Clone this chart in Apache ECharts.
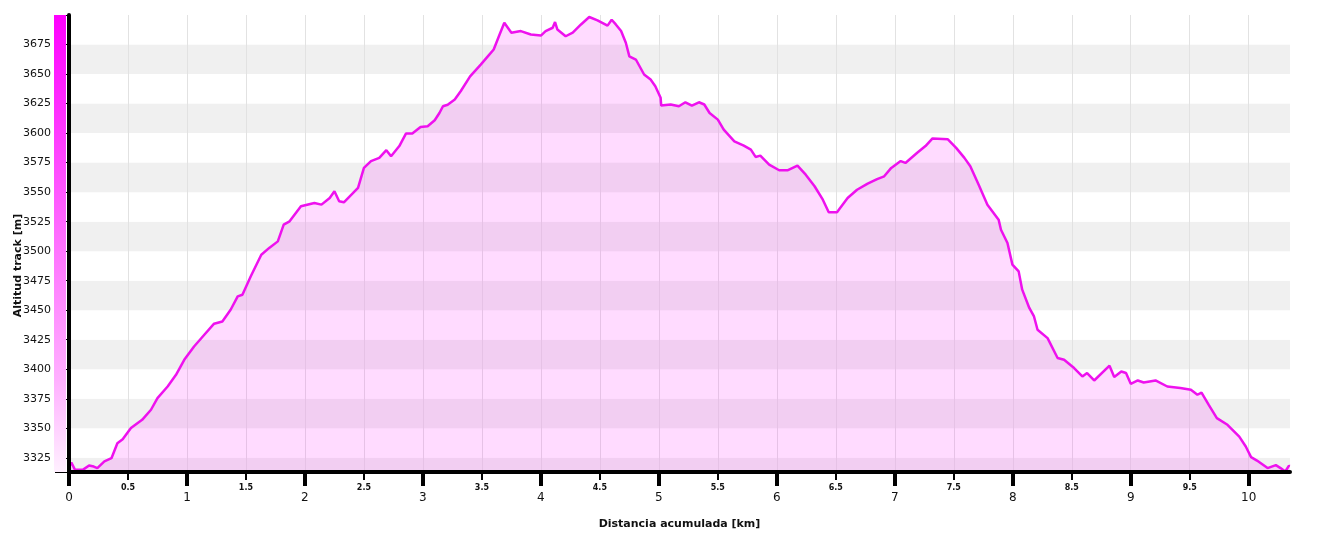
<!DOCTYPE html>
<html>
<head>
<meta charset="utf-8">
<script src="https://cdn.jsdelivr.net/npm/echarts@6/dist/echarts.min.js"></script>
<style>html,body{margin:0;padding:0;background:#fff;}#c{width:1323px;height:533px;}</style>
</head>
<body>
<div id="c"></div>
<script>
// Distance along the track (km)
const dist = [0.00,0.02,0.05,0.12,0.17,0.21,0.24,0.30,0.36,0.41,0.455,0.525,0.62,0.695,0.75,0.836,0.907,0.977,1.06,1.147,1.23,1.30,1.37,1.43,1.47,1.54,1.63,1.70,1.77,1.82,1.87,1.966,2.08,2.14,2.21,2.25,2.29,2.33,2.45,2.50,2.56,2.63,2.69,2.73,2.80,2.856,2.91,2.98,3.04,3.10,3.14,3.17,3.21,3.27,3.32,3.40,3.49,3.55,3.60,3.65,3.69,3.72,3.75,3.83,3.915,4.00,4.04,4.10,4.12,4.14,4.21,4.27,4.34,4.41,4.48,4.565,4.60,4.635,4.68,4.72,4.75,4.805,4.875,4.93,4.97,5.015,5.02,5.10,5.17,5.225,5.28,5.34,5.385,5.43,5.50,5.55,5.64,5.72,5.78,5.82,5.86,5.935,6.02,6.09,6.175,6.245,6.32,6.39,6.44,6.51,6.60,6.68,6.77,6.85,6.91,6.97,7.05,7.09,7.19,7.26,7.32,7.45,7.52,7.59,7.64,7.71,7.785,7.88,7.90,7.955,7.997,8.05,8.08,8.14,8.18,8.21,8.295,8.38,8.435,8.52,8.59,8.63,8.69,8.82,8.86,8.92,8.96,9.00,9.06,9.11,9.21,9.31,9.42,9.51,9.565,9.60,9.66,9.73,9.82,9.92,9.975,10.02,10.07,10.16,10.23,10.27,10.31,10.34,10.35];
// Altitude (m)
const alt = [3317,3321,3315,3315,3318.5,3317.6,3316.3,3322,3324.7,3337.4,3340.8,3350.2,3357.2,3365.7,3375.6,3385.4,3395.3,3408,3419.3,3429.2,3438.6,3440.5,3450.4,3461.7,3463.1,3478.6,3497,3503,3508.3,3522.5,3525.3,3538,3540.8,3539.4,3545.1,3550.7,3542.3,3541.4,3553.6,3570.5,3576.3,3579,3585.5,3580.4,3589,3599.6,3599.6,3605.2,3605.8,3610.9,3617,3622.7,3624,3628.4,3635.4,3648,3658,3665,3670.8,3683.5,3693.4,3689.2,3685,3686.4,3683.5,3682.6,3686.4,3689.2,3694,3687.7,3682,3685,3692,3698.3,3695.5,3691,3696,3692,3686.4,3676.5,3665,3662.3,3649.6,3645.3,3639.7,3629.9,3623.3,3624.2,3622.7,3626.1,3623.3,3626.1,3624.2,3617,3611.4,3603,3593,3589.4,3586,3579.8,3580.9,3573.3,3568.5,3568.5,3572.5,3564.8,3555,3543.6,3532.9,3532.9,3545,3552,3557.2,3561,3563.4,3570.5,3576.3,3574.7,3583.3,3589,3595.5,3594.7,3587.5,3579,3572,3556.4,3539.4,3526.7,3518.2,3506.9,3488.6,3482.9,3467.4,3451.9,3444.7,3433.5,3426.4,3409.5,3408,3401,3393.9,3396.8,3390.5,3403,3393.4,3398.1,3396.8,3387.7,3390.5,3388.8,3390.5,3385.4,3384.1,3382.6,3378.4,3380.3,3370,3358.6,3353,3343,3334.6,3325.6,3322.7,3316.3,3318.8,3316.3,3313.4,3318.2,3318];

// Axis ranges and ticks
const xMin = 0, xMax = 10.35;
const yMin = 3313, yMax = 3700;
const xTicks = [0,0.5,1,1.5,2,2.5,3,3.5,4,4.5,5,5.5,6,6.5,7,7.5,8,8.5,9,9.5,10];
const xMajorTicks = [0,1,2,3,4,5,6,7,8,9,10];
const yLabels = [3325,3350,3375,3400,3425,3450,3475,3500,3525,3550,3575,3600,3625,3650,3675];
const yBands = [yMin].concat(yLabels, [yMax]);

const xName = 'Distancia acumulada [km]';
const yName = 'Altitud track [m]';

const points = dist.map((d, i) => [d, alt[i]]);

const chart = echarts.init(document.getElementById('c'), null, {renderer: 'canvas'});
const FONT = 'DejaVu Sans';

chart.setOption({
  animation: false,
  backgroundColor: '#ffffff',
  grid: {left: 69, right: 33, top: 15, bottom: 61, containLabel: false, outerBoundsMode: 'none'},
  xAxis: [{
    type: 'value', min: xMin, max: xMax,
    name: xName, nameLocation: 'middle', nameGap: 47, nameMoveOverlap: false,
    nameTextStyle: {fontFamily: FONT, fontSize: 11, fontWeight: 'bold', color: '#111'},
    axisLine: {show: true, lineStyle: {color: '#000', width: 4}},
    axisTick: {show: true, customValues: xTicks, length: 8, lineStyle: {color: '#000', width: 2}},
    axisLabel: {
      customValues: xTicks, margin: 10, fontFamily: FONT, color: '#111', hideOverlap: false,
      formatter: v => (Math.abs(v - Math.round(v)) < 1e-9 ? '{big|' + Math.round(v) + '}' : '{small|' + String(v) + '}'),
      rich: {
        big: {fontFamily: FONT, fontSize: 12, lineHeight: 31, color: '#111'},
        small: {fontFamily: FONT, fontSize: 8, fontWeight: 'bold', lineHeight: 12, color: '#111'}
      }
    },
    splitLine: {show: false},
    z: 5
  }, {
    type: 'value', min: xMin, max: xMax, position: 'bottom',
    axisLine: {show: false},
    axisTick: {show: true, customValues: xMajorTicks, length: 14, lineStyle: {color: '#000', width: 4}},
    axisLabel: {show: false},
    splitLine: {show: false},
    z: 5
  }, {
    type: 'value', min: xMin, max: xMax, position: 'bottom',
    axisLine: {show: false},
    axisTick: {show: false, customValues: xTicks},
    axisLabel: {show: false},
    splitLine: {show: true, lineStyle: {color: '#e2e2e2', width: 1}},
    z: 1
  }],
  yAxis: [{
    type: 'value', min: yMin, max: yMax,
    name: yName, nameLocation: 'middle', nameRotate: 90, nameGap: 45, nameMoveOverlap: false,
    nameTextStyle: {fontFamily: FONT, fontSize: 11, fontWeight: 'bold', color: '#111', padding: [0, 44, 0, 0]},
    axisLine: {show: true, lineStyle: {color: '#000', width: 4}},
    axisTick: {show: true, customValues: yBands, length: 14, lineStyle: {color: '#000', width: 1}},
    axisLabel: {customValues: yLabels, margin: 18, fontFamily: FONT, fontSize: 11, color: '#111',
      hideOverlap: false, formatter: v => String(v)},
    splitLine: {show: false},
    splitArea: {show: false},
    z: 5
  }, {
    type: 'value', min: yMin, max: yMax, position: 'left',
    axisLine: {show: false},
    axisTick: {show: false, customValues: yBands},
    axisLabel: {show: false},
    splitLine: {show: false},
    splitArea: {show: true, areaStyle: {color: ['#f0f0f0', '#ffffff']}},
    z: 0
  }],
  graphic: [{
    type: 'rect', left: 54, top: 15, z: 100,
    shape: {x: 0, y: 0, width: 12, height: 457},
    style: {fill: {type: 'linear', x: 0, y: 0, x2: 0, y2: 1, global: false, colorStops: [
      {offset: 0, color: '#ff00ff'}, {offset: 0.5, color: '#ff70ff'},
      {offset: 0.8, color: '#ffb0ff'}, {offset: 1, color: '#fff0ff'}]}}
  }],
  series: [{
    type: 'line', xAxisIndex: 0, yAxisIndex: 0, data: points,
    showSymbol: false, symbol: 'none', smooth: false,
    lineStyle: {color: '#ee11ee', width: 2.5},
    areaStyle: {color: 'rgba(255,0,255,0.2)', origin: 'start'},
    z: 3
  }]
});
</script>
</body>
</html>
